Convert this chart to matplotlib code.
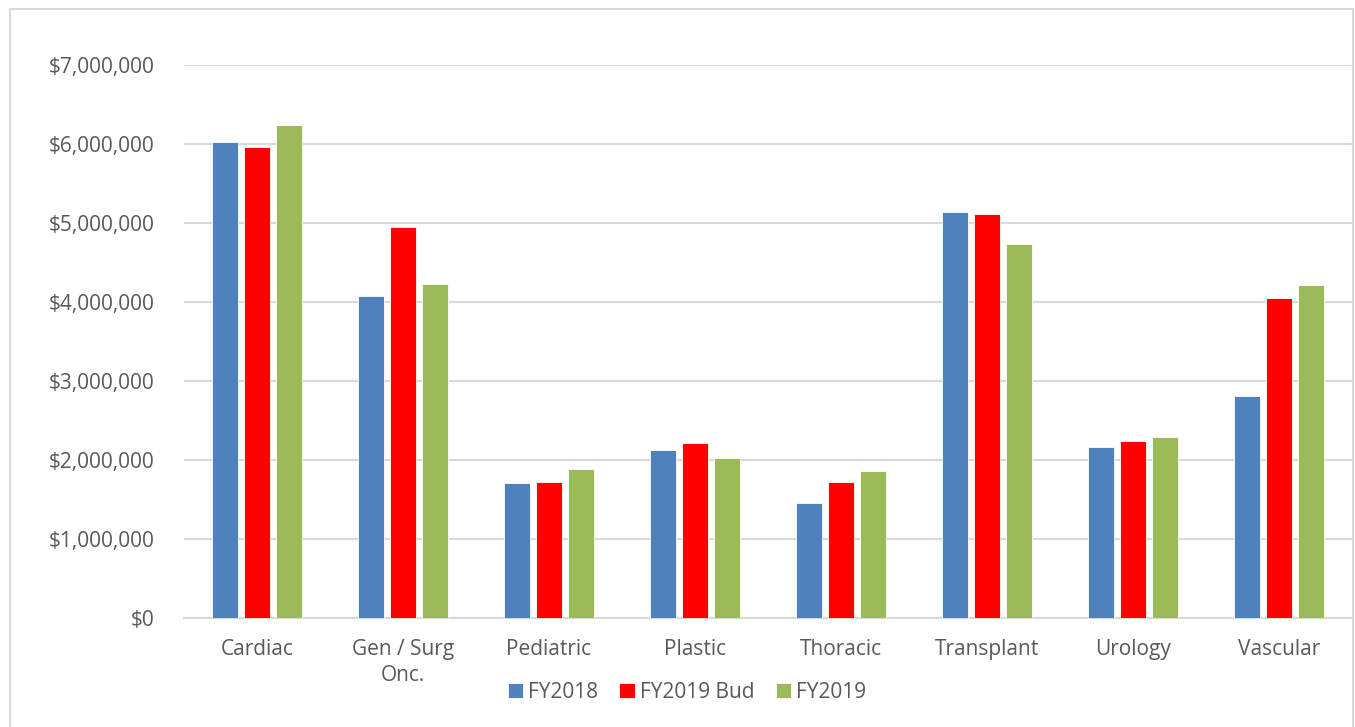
import matplotlib
matplotlib.use("Agg")
import matplotlib.pyplot as plt
import numpy as np
from matplotlib.ticker import FuncFormatter, MultipleLocator
from matplotlib.patches import Rectangle

categories = ["Cardiac", "Gen / Surg\nOnc.", "Pediatric", "Plastic", "Thoracic",
              "Transplant", "Urology", "Vascular"]
fy2018 = [6025000, 4075000, 1705000, 2130000, 1455000, 5135000, 2160000, 2815000]
fy2019_bud = [5965000, 4955000, 1725000, 2215000, 1720000, 5110000, 2245000, 4045000]
fy2019 = [6240000, 4230000, 1885000, 2025000, 1855000, 4730000, 2285000, 4215000]
series_names = ["FY2018", "FY2019 Bud", "FY2019"]
colors = ["#4F81BD", "#FF0000", "#9BBB59"]

W, H = 1355, 727
fig = plt.figure(figsize=(W / 100, H / 100), dpi=100)
plt.rcParams['font.family'] = ['Open Sans', 'DejaVu Sans']

# chart area border
fig.patches.append(Rectangle((10 / W, -0.01), (1353 - 10) / W, 1 - 9 / H + 0.01,
                             transform=fig.transFigure, fill=False,
                             edgecolor="#D9D9D9", linewidth=1.5))

ax = fig.add_axes([184 / W, 1 - 618 / H, (1352 - 184) / W, (618 - 65) / H])
x = np.arange(len(categories))
bw = 0.175
off = 0.22
for i, (vals, name, c) in enumerate(zip([fy2018, fy2019_bud, fy2019], series_names, colors)):
    ax.bar(x + (i - 1) * off, vals, width=bw, color=c, label=name,
           edgecolor="white", linewidth=0.6, zorder=3)

ax.set_xlim(-0.5, len(categories) - 0.5)
ax.set_ylim(0, 7000000)
ax.yaxis.set_major_locator(MultipleLocator(1000000))
ax.yaxis.set_major_formatter(FuncFormatter(lambda v, p: "${:,.0f}".format(v)))
ax.grid(axis="y", color="#D9D9D9", linewidth=1.5, zorder=0)
ax.set_axisbelow(True)
for s in ["top", "right", "left"]:
    ax.spines[s].set_visible(False)
ax.spines["bottom"].set_color("#D9D9D9")
ax.spines["bottom"].set_linewidth(1.5)
ax.set_xticks(x)
ax.set_xticklabels(categories, linespacing=1.35)
ax.tick_params(axis="both", length=0, labelsize=15, colors="#595959")
ax.tick_params(axis="y", pad=21)
ax.tick_params(axis="x", pad=15)

leg = fig.legend(loc="center", bbox_to_anchor=(687 / W, 1 - 692 / H), ncol=3,
                 frameon=False, fontsize=15, handlelength=0.75, handleheight=0.75,
                 handletextpad=0.25, columnspacing=1.0)
for t in leg.get_texts():
    t.set_color("#595959")

fig.savefig("out.png", dpi=100, facecolor="white")
